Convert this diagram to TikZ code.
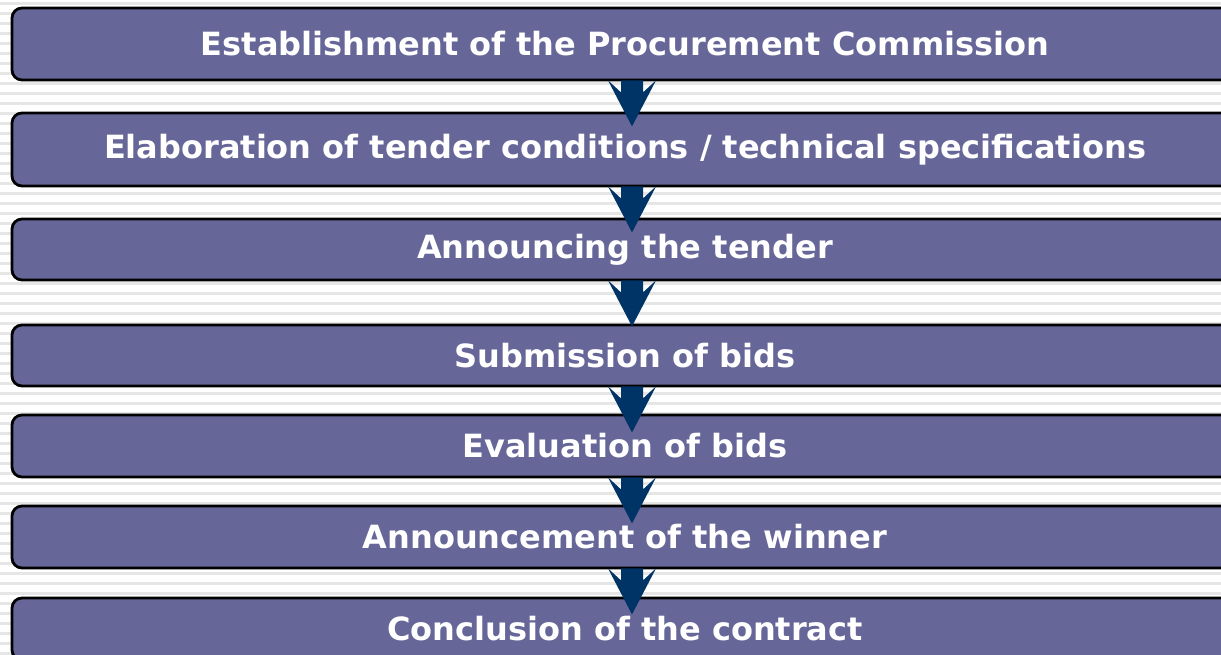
\documentclass[tikz,border=0pt]{standalone}
\usepackage{fontspec}
\setmainfont{DejaVu Sans}
\definecolor{boxfill}{HTML}{666699}
\definecolor{arrowfill}{HTML}{003366}
\definecolor{stripe}{HTML}{E6E6E6}
\begin{document}
\begin{tikzpicture}[x=1pt,y=-1pt,
  stepbox/.style={draw=black, line width=2.8pt, fill=boxfill, rounded corners=10pt,
    minimum width=1226pt, inner sep=0pt, text=white,
    font=\fontsize{32}{36}\selectfont\bfseries},
  flowarrow/.style={fill=arrowfill, draw=none}]
\useasboundingbox (0,0) rectangle (1221,655);
\fill[white] (0,0) rectangle (1221,655);
\foreach \y in {2,12,...,652} \fill[stripe] (0,\y) rectangle (1221,\y+3);
\node[stepbox, minimum height=72pt] (b1) at (625,44) {Establishment of the Procurement Commission};
\node[stepbox, minimum height=73pt] (b2) at (625,149.5) {Elaboration of tender conditions / technical specifications};
\node[stepbox, minimum height=61pt] (b3) at (625,249.5) {Announcing the tender};
\node[stepbox, minimum height=61pt] (b4) at (625,355.5) {Submission of bids};
\node[stepbox, minimum height=62pt] (b5) at (625,446) {Evaluation of bids};
\node[stepbox, minimum height=62pt] (b6) at (625,537) {Announcement of the winner};
\node[stepbox, minimum height=62pt] (b7) at (625,629) {Conclusion of the contract};
\foreach \s/\t in {b1/b2,b2/b3,b3/b4,b4/b5,b5/b6,b6/b7}{
  \fill[flowarrow] ([xshift=7pt,yshift=1pt]\s.south)
    ++(-11,0) -- ++(22,0) -- ++(0,12) -- ++(13,-12) -- ++(-24,46) -- ++(-24,-46) -- ++(13,12) -- cycle;
}
\end{tikzpicture}
\end{document}
